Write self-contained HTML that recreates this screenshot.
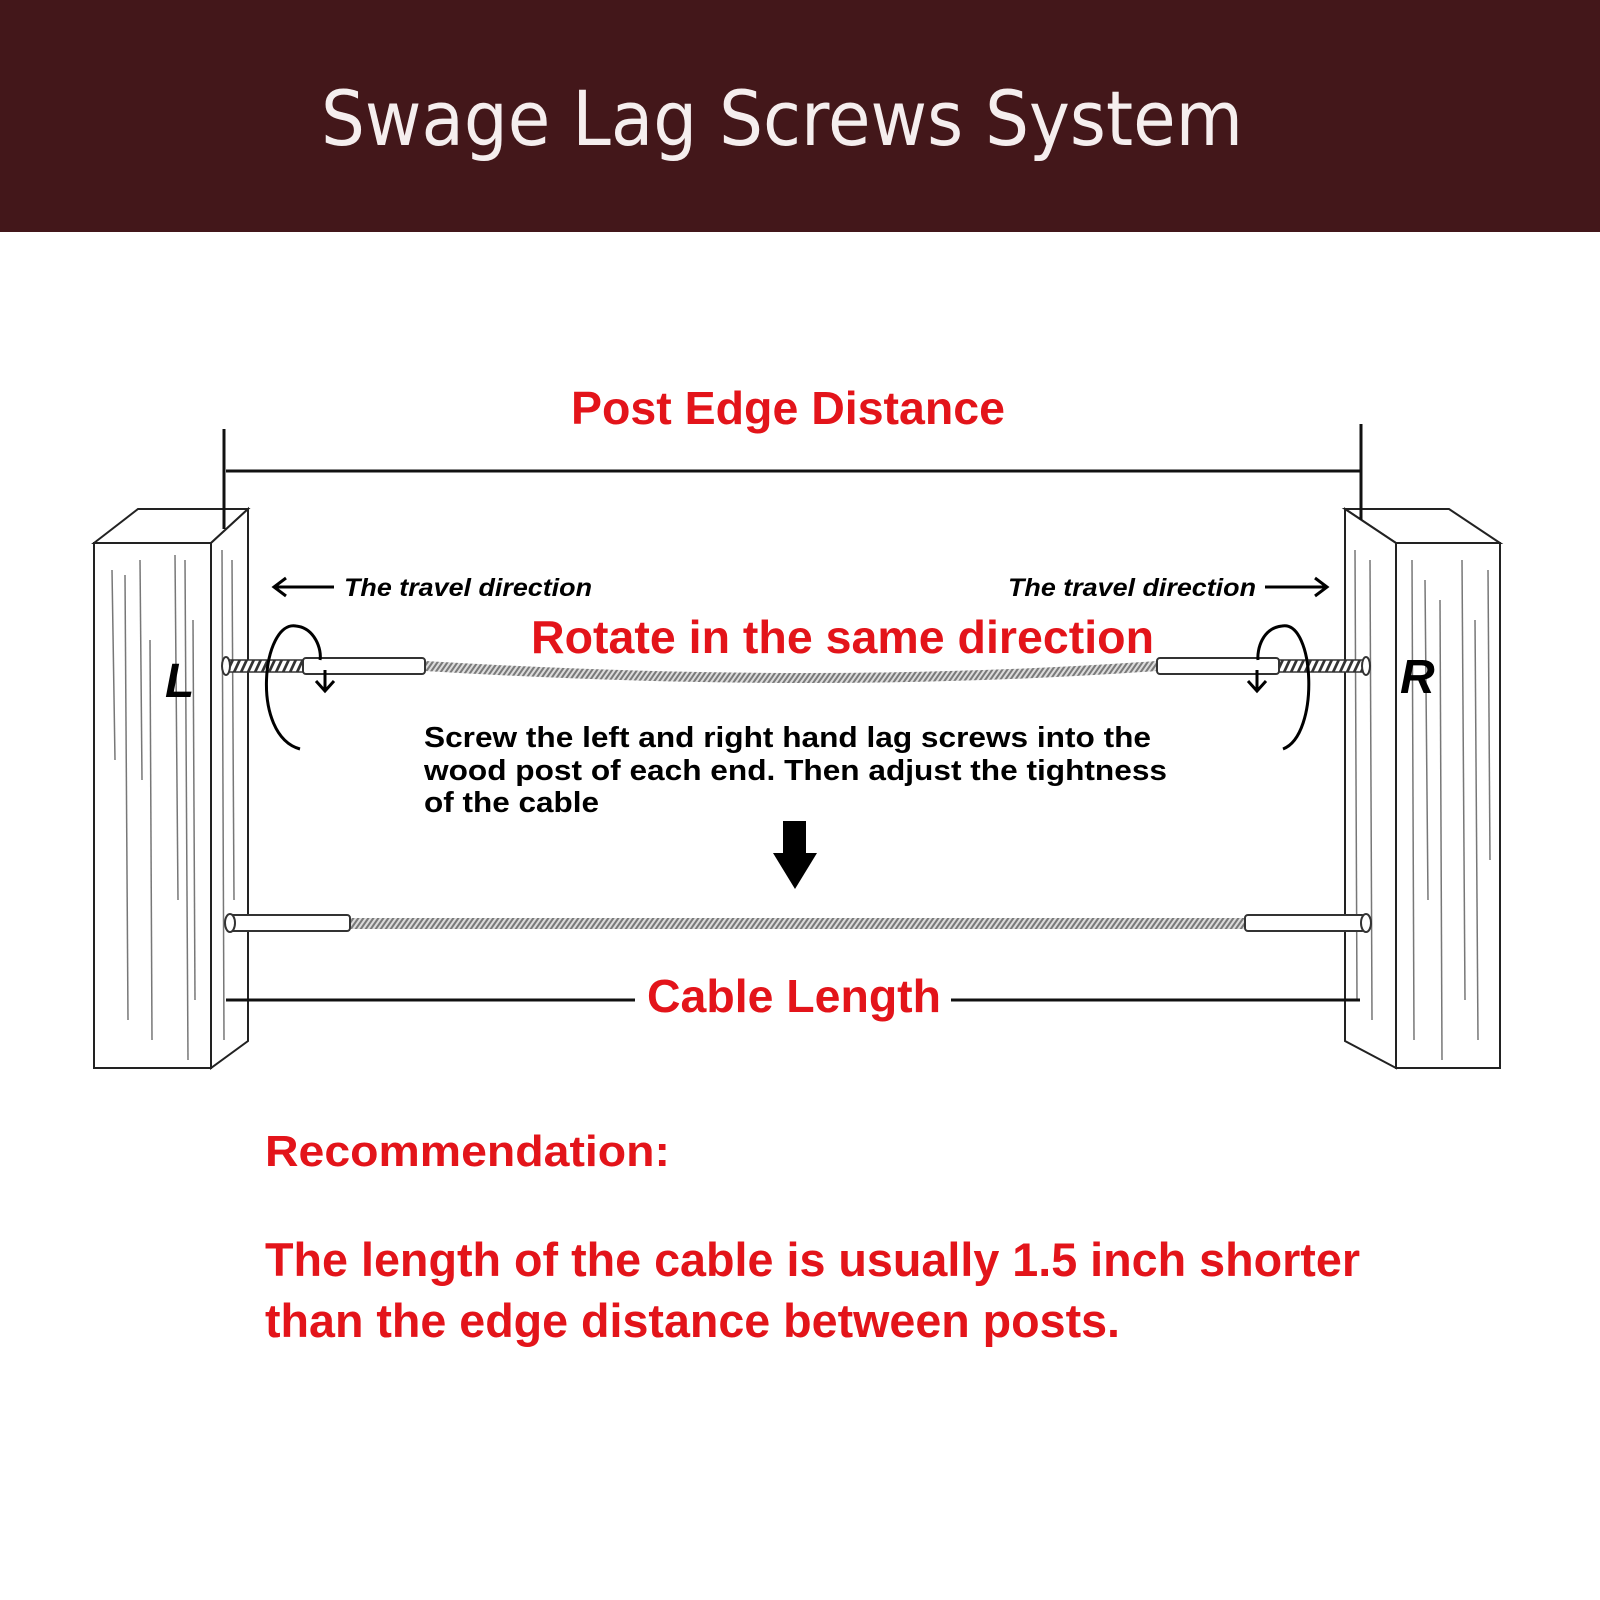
<!DOCTYPE html>
<html><head><meta charset="utf-8"><style>
html,body{margin:0;padding:0;background:#fff;}
svg{display:block;}
</style></head><body>
<svg width="1600" height="1600" viewBox="0 0 1600 1600" xmlns="http://www.w3.org/2000/svg">
<defs>
<pattern id="hatch" width="5" height="10" patternUnits="userSpaceOnUse" patternTransform="skewX(-35)">
<rect width="5" height="10" fill="#dcdcdc"/><rect width="2.5" height="10" fill="#7a7a7a"/>
</pattern>
<pattern id="thread" width="7" height="14" patternUnits="userSpaceOnUse" patternTransform="skewX(-25)">
<rect width="7" height="14" fill="#fff"/><rect width="3" height="14" fill="#333"/>
</pattern>
</defs>
<rect x="0" y="0" width="1600" height="232" fill="#43171a"/>
<text x="321" y="145" font-family="DejaVu Sans, sans-serif" font-size="76" fill="#f5eeee" textLength="922" lengthAdjust="spacingAndGlyphs">Swage Lag Screws System</text>

<g font-family="Liberation Sans, sans-serif" font-weight="bold" fill="#e3141a">
<text x="571" y="424" font-size="46" textLength="434" lengthAdjust="spacingAndGlyphs">Post Edge Distance</text>
<text x="531" y="653" font-size="46" textLength="623" lengthAdjust="spacingAndGlyphs">Rotate in the same direction</text>
<text x="647" y="1012" font-size="46" textLength="294" lengthAdjust="spacingAndGlyphs">Cable Length</text>
<text x="265" y="1166" font-size="44" textLength="405" lengthAdjust="spacingAndGlyphs">Recommendation:</text>
<text x="265" y="1276" font-size="47" textLength="1095" lengthAdjust="spacingAndGlyphs">The length of the cable is usually 1.5 inch shorter</text>
<text x="265" y="1337" font-size="47" textLength="855" lengthAdjust="spacingAndGlyphs">than the edge distance between posts.</text>
</g>

<!-- posts -->
<g stroke="#222" stroke-width="2" fill="#fff">
<polygon points="94,543 138,509 248,509 211,543"/>
<polygon points="211,543 248,509 248,1041 211,1068"/>
<rect x="94" y="543" width="117" height="525"/>
<polygon points="1345,509 1449,509 1500,543 1396,543"/>
<polygon points="1345,509 1396,543 1396,1068 1345,1041"/>
<rect x="1396" y="543" width="104" height="525"/>
</g>
<g stroke="#777" stroke-width="1.5">
<line x1="112" y1="570" x2="115" y2="760"/><line x1="125" y1="575" x2="128" y2="1020"/>
<line x1="140" y1="560" x2="142" y2="780"/><line x1="150" y1="640" x2="152" y2="1040"/>
<line x1="175" y1="555" x2="178" y2="900"/><line x1="185" y1="560" x2="188" y2="1060"/>
<line x1="193" y1="620" x2="195" y2="1000"/><line x1="222" y1="550" x2="224" y2="1040"/>
<line x1="232" y1="560" x2="234" y2="900"/>
<line x1="1355" y1="550" x2="1357" y2="1000"/><line x1="1370" y1="560" x2="1372" y2="1020"/>
<line x1="1412" y1="560" x2="1414" y2="1040"/><line x1="1425" y1="580" x2="1428" y2="900"/>
<line x1="1440" y1="600" x2="1442" y2="1060"/><line x1="1462" y1="560" x2="1465" y2="1000"/>
<line x1="1475" y1="620" x2="1478" y2="1040"/><line x1="1488" y1="570" x2="1490" y2="860"/>
</g>

<g stroke="#111" stroke-width="3" fill="none">
<line x1="224" y1="429" x2="224" y2="529"/>
<line x1="1361" y1="424" x2="1361" y2="520"/>
<line x1="226" y1="471" x2="1360" y2="471"/>
<line x1="226" y1="1000" x2="635" y2="1000"/>
<line x1="951" y1="1000" x2="1360" y2="1000"/>
</g>

<g font-family="Liberation Sans, sans-serif" font-weight="bold" font-style="italic" fill="#000">
<text x="165" y="697" font-size="48">L</text>
<text x="1400" y="693" font-size="48">R</text>
<text x="344" y="596" font-size="25" textLength="248" lengthAdjust="spacingAndGlyphs">The travel direction</text>
<text x="1008" y="596" font-size="25" textLength="248" lengthAdjust="spacingAndGlyphs">The travel direction</text>
</g>
<g stroke="#000" stroke-width="3" fill="none">
<line x1="274" y1="587" x2="334" y2="587"/><polyline points="286,578 274,587 286,596"/>
<line x1="1265" y1="587" x2="1327" y2="587"/><polyline points="1315,578 1327,587 1315,596"/>
</g>

<!-- top cable -->
<path d="M425,666 Q820,690 1157,666" stroke="url(#hatch)" stroke-width="10" fill="none"/>
<rect x="224" y="660" width="80" height="12" fill="url(#thread)" stroke="#333" stroke-width="1.5"/>
<ellipse cx="226" cy="666" rx="4" ry="9" fill="#fff" stroke="#333" stroke-width="2"/>
<rect x="303" y="658" width="122" height="16" rx="3" fill="#fff" stroke="#333" stroke-width="2"/>
<rect x="1279" y="660" width="85" height="12" fill="url(#thread)" stroke="#333" stroke-width="1.5"/>
<ellipse cx="1366" cy="666" rx="4" ry="9" fill="#fff" stroke="#333" stroke-width="2"/>
<rect x="1157" y="658" width="122" height="16" rx="3" fill="#fff" stroke="#333" stroke-width="2"/>

<g stroke="#000" stroke-width="3" fill="none">
<path d="M300,749 C250,735 262,620 296,626 C315,628 322,650 320,660"/>
<line x1="325" y1="670" x2="325" y2="690"/><polyline points="316,681 325,691 334,681"/>
<path d="M1283,749 C1320,735 1315,620 1282,626 C1262,628 1257,650 1258,660"/>
<line x1="1257" y1="670" x2="1257" y2="690"/><polyline points="1248,681 1257,691 1266,681"/>
</g>

<g font-family="Liberation Sans, sans-serif" font-weight="bold" fill="#000" font-size="29">
<text x="424" y="747" textLength="727" lengthAdjust="spacingAndGlyphs">Screw the left and right hand lag screws into the</text>
<text x="424" y="780" textLength="743" lengthAdjust="spacingAndGlyphs">wood post of each end. Then adjust the tightness</text>
<text x="424" y="812" textLength="175" lengthAdjust="spacingAndGlyphs">of the cable</text>
</g>
<polygon points="783,821 806,821 806,853 817,853 795,889 773,853 783,853" fill="#000"/>

<!-- bottom cable -->
<rect x="350" y="918" width="895" height="11" fill="url(#hatch)"/>
<rect x="230" y="915" width="120" height="16" rx="3" fill="#fff" stroke="#333" stroke-width="2"/>
<ellipse cx="230" cy="923" rx="5" ry="9" fill="#fff" stroke="#333" stroke-width="2"/>
<rect x="1245" y="915" width="120" height="16" rx="3" fill="#fff" stroke="#333" stroke-width="2"/>
<ellipse cx="1366" cy="923" rx="5" ry="9" fill="#fff" stroke="#333" stroke-width="2"/>
</svg>
</body></html>
